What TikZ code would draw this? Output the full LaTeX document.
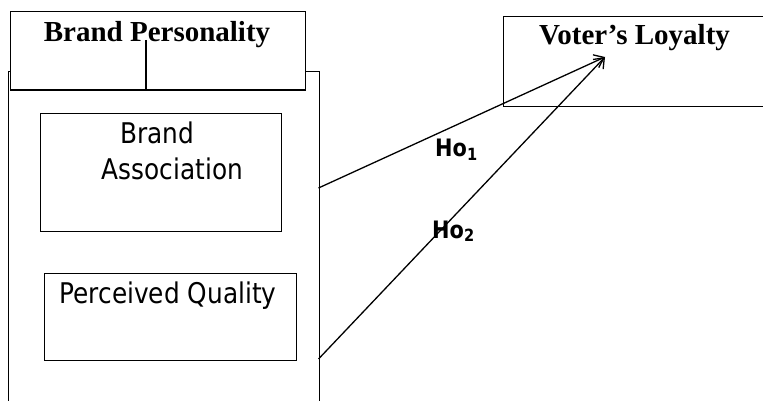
\documentclass[tikz,border=0pt]{standalone}
\usepackage{fontspec}
\setmainfont{Liberation Serif}
\newfontfamily\tah[FakeStretch=0.87]{DejaVu Sans}
\usetikzlibrary{arrows.meta}
\begin{document}
\begin{tikzpicture}[x=1pt,y=-1pt,
  box/.style={draw,line width=1.2pt,inner sep=0pt,anchor=north west},
  lbl/.style={inner sep=0pt,anchor=base},
  titlefont/.style={font=\bfseries\fontsize{29}{30}\selectfont},
  sansfont/.style={font=\tah\fontsize{28.5}{30}\selectfont},
  hofont/.style={font=\tah\bfseries\fontsize{24}{26}\selectfont},
  link/.style={line width=1.3pt,-{Straight Barb[length=9pt,width=14pt,line width=1.3pt]}},
  thick2/.style={line width=2.4pt}]
\useasboundingbox (0,0) rectangle (763,401);
\clip (0,0) rectangle (763,401);
% outer container
\node[box,minimum width=311,minimum height=345] (outer) at (8,71) {};
% Brand Personality header box
\node[box,fill=white,minimum width=295,minimum height=78] (bp) at (10,11) {};
\draw[thick2] (bp.south west) -- (bp.south east);
\coordinate (bpv) at (146,40);
\draw[thick2] (bpv) -- (bpv |- bp.south);
\node[lbl,titlefont] (bpt) at (157,42) {Brand Personality};
% Voter's Loyalty box
\node[box,minimum width=263,minimum height=90] (vl) at (503,16) {};
\node[lbl,titlefont] (vlt) at (634.5,45) {Voter’s Loyalty};
% Brand Association box
\node[box,line width=1pt,minimum width=241,minimum height=118] (ba) at (40,113) {};
\node[lbl,sansfont] (bat1) at (157,143) {Brand};
\node[lbl,sansfont] (bat2) at (172.5,179) {Association};
% Perceived Quality box
\node[box,line width=1pt,minimum width=252,minimum height=87] (pq) at (44,273) {};
\node[lbl,sansfont] (pqt) at (168,303) {Perceived Quality};
% connectors
\coordinate (s1) at (318.5,188);
\coordinate (s2) at (318.5,359);
\coordinate (tip) at (605,57);
\draw[link] (s1) -- (tip);
\draw[link] (s2) -- (tip);
\node[lbl,hofont,anchor=base west] (ho1) at (435,157) {Ho\textsubscript{1}};
\node[lbl,hofont,anchor=base west] (ho2) at (432,238) {Ho\textsubscript{2}};
\end{tikzpicture}
\end{document}
